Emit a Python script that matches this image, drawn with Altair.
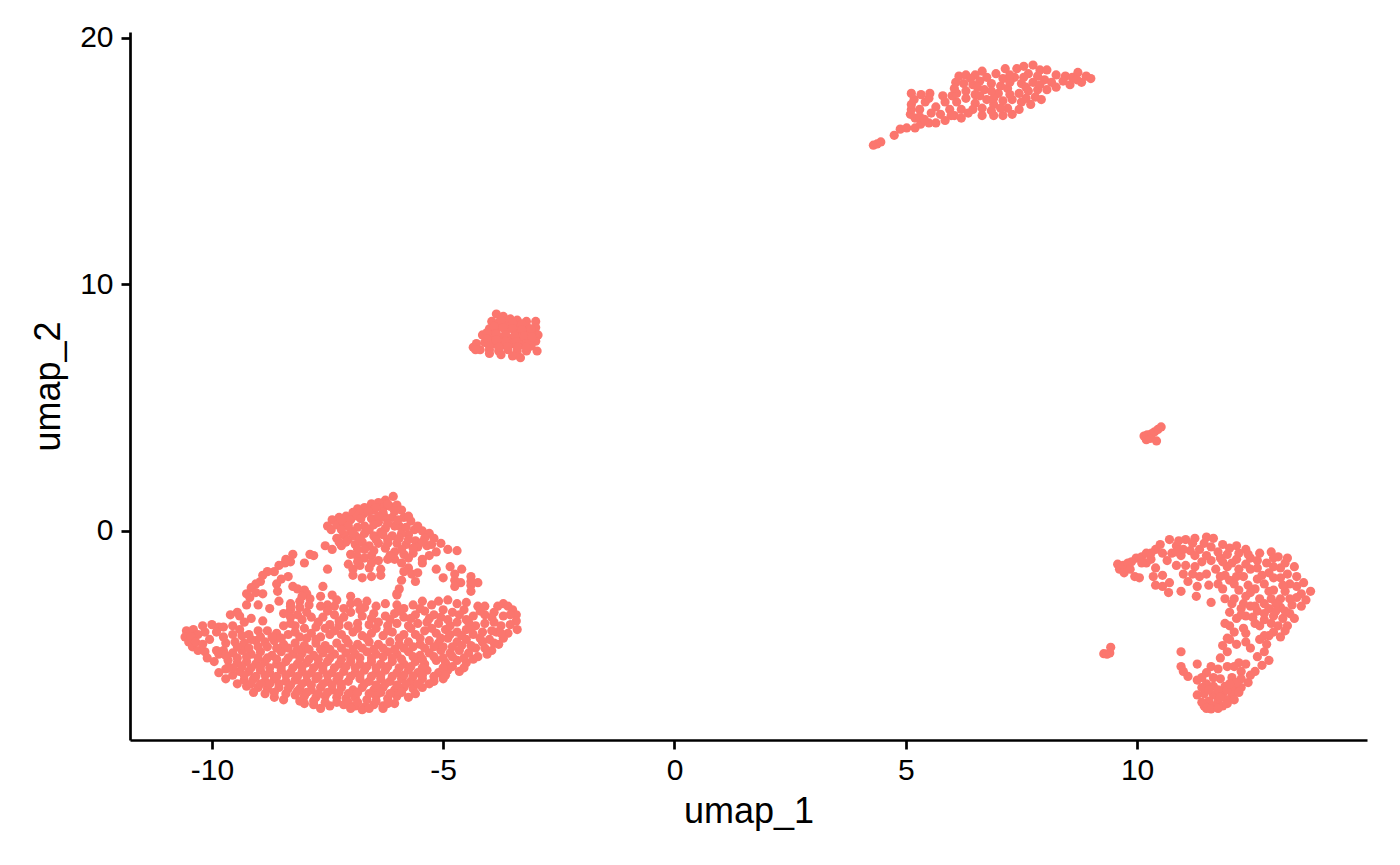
import altair as alt
import pandas as pd

peak = [(-6.08,1.4),(-6.25,1.25),(-6.4,1.15),(-6.55,1.1),(-6.7,0.95),(-6.85,0.9),(-6.95,0.75),(-7.1,0.6),(-7.25,0.55),(-7.4,0.45),(-7.5,0.2),(-7.42,0.05),(-7.3,0.25),(-7.15,0.3),(-7.0,0.45),(-6.85,0.6),(-6.72,0.7),(-6.5,0.85),(-6.3,0.95),(-6.15,1.0),(-6.0,1.05),(-5.9,0.85),(-5.85,0.55),(-5.7,0.4),(-5.62,0.05),(-5.45,0.0),(-5.3,-0.1),(-5.2,-0.3),(-5.4,-0.3),(-5.6,-0.4),(-5.75,-0.15),(-5.95,0.2),(-6.1,0.55),(-6.25,0.55),(-6.05,0.2),(-5.9,-0.1),(-6.1,-0.2),(-6.25,0.1),(-6.4,0.35),(-6.55,0.5),(-6.7,0.2),(-6.85,0.15),(-7.0,0.0),(-7.15,-0.15),(-7.3,-0.3),(-7.55,-0.6),(-7.4,-0.75),(-7.2,-0.6),(-7.05,-0.35),(-6.9,-0.2),(-6.7,-0.1),(-6.5,-0.2),(-6.35,-0.05),(-6.2,-0.35),(-6.0,-0.5),(-5.8,-0.55),(-5.55,-0.65),(-5.35,-0.6),(-5.15,-0.85),(-5.05,-0.5),(-4.9,-0.75),(-4.7,-0.8),(-6.9,-0.55),(-6.75,-0.45),(-6.6,-0.6),(-6.4,-0.5),(-6.25,-0.7),(-6.05,-0.85),(-5.85,-0.95),(-5.65,-0.9),(-5.45,-1.15),(-5.3,-1.0),(-7.0,-0.95),(-6.85,-1.05),(-6.7,-1.1),(-6.55,-1.0),(-6.4,-1.2),(-6.2,-1.15),(-7.05,-1.35),(-6.95,-1.55),(-6.8,-1.4),(-6.6,-1.5),(-6.35,-1.55),(-6.05,-1.15),(-5.9,-1.3),(-5.75,-1.5),(-6.95,-1.8),(-6.75,-1.9),(-6.55,-1.85),(-6.35,-1.8),(-5.85,-1.65),(-5.68,-1.75),(-5.55,-1.7),(-5.6,-2.05),(-5.9,-2.0),(-5.95,-2.35),(-4.85,-1.45),(-4.6,-1.55),(-4.75,-1.75),(-4.75,-2.0),(-4.62,-2.1),(-4.75,-2.25),(-4.4,-2.2),(-4.25,-2.1),(-4.4,-1.85),(-4.4,-2.05),(-4.4,-2.45),(-7.5,-1.55),(-8.0,-1.3),(-8.4,-1.15),(-7.88,-0.95),(-7.8,-1.0),(-5.15,-1.55),(-5.0,-1.9),(-5.45,-1.3),(-6.0,-2.55),(-6.0,-2.6)]

peak_fill = [(-6.2,1.1),(-6.45,0.95),(-6.62,0.8),(-6.3,0.75),(-6.78,0.5),(-7.05,0.2),(-7.2,0.05),(-6.95,-0.1),(-6.6,0.05),(-6.2,0.3),(-5.98,0.45),(-5.8,0.15),(-5.75,-0.35),(-5.95,-0.3),(-6.3,-0.15),(-6.45,-0.35),(-6.8,-0.3),(-7.1,-0.45),(-7.25,-0.45),(-6.7,-0.75),(-6.5,-0.8),(-6.2,-0.5),(-5.9,-0.75),(-5.65,-0.7),(-5.45,-0.45),(-5.25,-0.55),(-6.85,-0.75),(-6.15,-1.0),(-5.75,-1.1),(-6.55,-1.3),(-6.85,-1.25),(-7.2,0.45),(-6.4,0.6),(-6.05,0.8),(-5.75,0.6),(-5.55,0.2),(-6.5,0.25)]

ridge = [(-8.25,-0.95),(-8.3,-1.25),(-8.42,-1.3),(-8.55,-1.4),(-8.65,-1.65),(-8.8,-1.65),(-8.9,-1.8),(-8.95,-2.05),(-9.05,-2.15),(-9.15,-2.3),(-9.25,-2.55),(-9.18,-2.7),(-9.05,-2.5),(-8.9,-2.55),(-8.6,-2.15),(-8.5,-1.95),(-8.35,-1.85),(-8.58,-2.45),(-8.25,-2.25),(-8.15,-2.35),(-8.0,-2.4),(-7.95,-2.55),(-7.88,-2.75),(-8.1,-2.85),(-8.05,-2.65),(-7.6,-2.25),(-7.5,-3.0),(-9.25,-3.0),(-9.0,-3.0),(-8.75,-3.15),(-8.55,-2.85),(-8.3,-2.95),(-9.15,-3.55),(-8.9,-3.65),(-9.45,-3.3),(-8.3,-3.2),(-7.65,-2.65),(-7.4,-2.6),(-7.3,-2.8),(-7.0,-2.65)]

main_upper = [(-8.3,-3.05),(-8.1,-3.1),(-7.9,-3.0),(-7.65,-3.05),(-7.35,-3.05),(-7.15,-3.15),(-7.0,-2.95),(-6.85,-2.9),(-6.7,-3.1),(-6.45,-3.05),(-6.25,-2.95),(-6.65,-2.85),(-6.0,-3.0),(-5.85,-3.15),(-5.65,-3.0),(-5.45,-2.85),(-5.25,-3.0),(-5.1,-2.85),(-4.9,-2.8),(-4.7,-2.95),(-4.5,-2.9),(-4.25,-3.05),(-4.1,-3.05),(-3.82,-3.05),(-3.7,-2.95),(-3.6,-3.05),(-3.5,-3.2),(-3.42,-3.4),(-3.55,-3.4),(-3.7,-3.45),(-3.9,-3.3),(-4.1,-3.4),(-4.35,-3.45),(-4.55,-3.2),(-4.8,-3.3),(-5.0,-3.2),(-5.2,-3.4),(-5.4,-3.25),(-5.6,-3.4),(-5.85,-3.5),(-6.05,-3.35),(-6.25,-3.45),(-6.5,-3.35),(-6.75,-3.45),(-7.0,-3.3),(-7.15,-3.5),(-7.35,-3.4),(-7.6,-3.5),(-7.85,-3.5),(-8.05,-3.6),(-8.3,-3.5),(-8.45,-3.35),
(-3.42,-3.65),(-3.55,-3.8),(-3.4,-4.0),(-3.6,-4.15),(-3.75,-3.85),(-3.9,-3.7),(-4.1,-3.75),(-4.3,-3.85),(-4.5,-3.6),(-4.7,-3.7),(-4.9,-3.6),(-5.1,-3.75),(-5.35,-3.7),(-5.55,-3.75),(-5.75,-3.85),(-6.0,-3.75),(-6.2,-3.85),(-6.4,-3.7),(-6.6,-3.8),(-6.85,-3.75),(-7.05,-3.85),(-7.25,-3.85),(-7.45,-3.8),(-7.75,-3.9),(-8.0,-3.95),(-8.2,-3.85),(-8.45,-3.85),
(-3.7,-4.35),(-3.85,-4.1),(-3.8,-4.6),(-3.95,-4.85),(-4.0,-4.4),(-4.15,-4.1),(-4.35,-4.2),(-4.5,-4.0),(-4.7,-4.1),(-4.95,-4.0),(-5.15,-4.15),(-5.4,-4.05),(-5.6,-4.2),(-5.85,-4.2),(-6.1,-4.1),(-6.3,-4.25),(-6.55,-4.15),(-6.75,-4.25),(-6.95,-4.1),(-7.2,-4.2),(-7.45,-4.2),(-7.65,-4.3),(-7.85,-4.15),(-8.1,-4.3),(-8.35,-4.2),(-8.6,-4.15),(-8.8,-4.05),(-9.0,-4.05),(-9.2,-4.2),(-9.4,-4.0)]

main_lower = [(-4.15,-4.5),(-4.3,-4.75),(-4.5,-4.4),(-4.7,-4.5),(-4.9,-4.35),(-5.1,-4.55),(-5.3,-4.45),(-5.5,-4.6),(-5.75,-4.5),(-5.95,-4.6),(-6.15,-4.5),(-6.4,-4.6),(-6.6,-4.5),(-6.85,-4.6),(-7.05,-4.55),(-7.3,-4.55),(-7.55,-4.65),(-7.75,-4.55),(-8.0,-4.65),(-8.2,-4.55),(-8.45,-4.6),(-8.65,-4.45),(-8.85,-4.5),(-9.05,-4.45),(-9.3,-4.55),(-9.5,-4.5),(-9.7,-4.55),
(-4.25,-5.1),(-4.45,-4.95),(-4.65,-4.85),(-4.85,-4.95),(-5.05,-4.85),(-5.3,-4.95),(-5.5,-5.05),(-5.75,-4.9),(-6.0,-5.0),(-6.2,-4.9),(-6.45,-5.0),(-6.65,-4.9),(-6.9,-5.0),(-7.1,-4.95),(-7.35,-5.0),(-7.6,-4.95),(-7.8,-5.05),(-8.05,-4.95),(-8.25,-5.0),(-8.5,-4.9),(-8.7,-5.05),(-8.95,-4.9),(-9.15,-5.0),(-9.35,-4.85),(-9.55,-4.95),(-9.75,-4.85),
(-4.5,-5.35),(-4.7,-5.25),(-4.95,-5.35),(-5.15,-5.25),(-5.4,-5.4),(-5.6,-5.3),(-5.85,-5.4),(-6.1,-5.3),(-6.35,-5.4),(-6.55,-5.3),(-6.8,-5.4),(-7.0,-5.3),(-7.25,-5.4),(-7.5,-5.3),(-7.7,-5.4),(-7.95,-5.35),(-8.15,-5.4),(-8.4,-5.3),(-8.6,-5.4),(-8.85,-5.3),(-9.05,-5.4),(-9.25,-5.3),(-9.45,-5.35),(-9.65,-5.25),(-9.7,-5.6),
(-4.65,-5.7),(-4.9,-5.65),(-5.1,-5.75),(-5.35,-5.65),(-5.55,-5.75),(-5.75,-5.65),(-6.0,-5.75),(-6.25,-5.65),(-6.45,-5.75),(-6.7,-5.65),(-6.9,-5.75),(-7.15,-5.7),(-7.4,-5.75),(-7.6,-5.65),(-7.85,-5.75),(-8.05,-5.7),(-8.3,-5.75),(-8.5,-5.65),(-8.75,-5.75),(-8.95,-5.65),(-9.2,-5.7),(-9.4,-5.7),(-9.55,-5.85),
(-5.0,-6.0),(-5.2,-6.1),(-5.45,-6.0),(-5.7,-6.1),(-5.9,-6.0),(-6.15,-6.1),(-6.35,-6.0),(-6.6,-6.1),(-6.8,-6.0),(-7.05,-6.1),(-7.3,-6.05),(-7.5,-6.1),(-7.75,-6.0),(-7.95,-6.1),(-8.2,-6.05),(-8.4,-6.1),(-8.65,-6.0),(-8.85,-6.1),(-9.1,-6.0),(-9.3,-6.05),(-9.45,-6.2),(-9.25,-6.3),
(-5.45,-6.35),(-5.65,-6.4),(-5.85,-6.35),(-6.05,-6.45),(-6.3,-6.35),(-6.5,-6.45),(-6.75,-6.35),(-6.95,-6.45),(-7.2,-6.35),(-7.4,-6.45),(-7.65,-6.35),(-7.85,-6.45),(-8.1,-6.4),(-8.35,-6.4),(-8.55,-6.35),(-8.8,-6.4),(-9.0,-6.35),(-9.1,-6.55),(-8.85,-6.6),(-8.65,-6.75),(-8.45,-6.85),(-8.65,-6.55),
(-5.75,-6.75),(-6.0,-6.7),(-6.2,-6.8),(-6.45,-6.7),(-6.65,-6.85),(-6.9,-6.75),(-7.1,-6.8),(-7.3,-6.75),(-7.55,-6.7),(-7.75,-6.75),(-8.0,-6.7),(-8.2,-6.65),(-8.1,-6.9),
(-6.3,-7.1),(-6.5,-7.05),(-6.7,-7.15),(-6.9,-7.1),(-7.15,-7.05),(-7.45,-7.1),(-7.65,-7.2),(-7.8,-7.05),(-8.0,-7.0),(-7.55,-6.95),(-6.05,-7.0),(-6.3,-7.2),(-6.75,-7.25)]

main_fill = [(-3.95,-3.5),(-4.2,-3.25),(-4.45,-3.7),(-4.65,-3.4),(-4.85,-3.85),(-5.05,-3.5),(-5.3,-3.55),(-5.5,-3.15),(-5.7,-3.55),(-5.95,-3.25),(-6.15,-3.6),(-6.55,-3.55),(-6.8,-3.2),(-7.25,-3.65),(-7.5,-3.25),(-7.7,-3.7),(-7.95,-3.3),(-8.15,-3.4),(-8.3,-3.75),
(-3.75,-4.15),(-3.95,-4.05),(-4.2,-4.35),(-4.4,-4.0),(-4.6,-4.25),(-4.85,-4.2),(-5.05,-4.35),(-5.25,-3.95),(-5.5,-4.35),(-5.7,-3.95),(-5.95,-4.35),(-6.2,-4.05),(-6.45,-3.95),(-6.65,-4.35),(-6.85,-3.95),(-7.1,-4.4),(-7.35,-4.05),(-7.55,-3.95),(-7.75,-4.4),(-7.95,-4.35),(-8.2,-4.1),(-8.5,-4.35),(-8.7,-4.3),(-8.95,-4.3),(-9.15,-4.4),(-9.35,-4.25),(-9.55,-4.2),
(-3.9,-4.55),(-4.1,-4.75),(-4.05,-5.0),(-4.4,-4.65),(-4.6,-4.65),(-4.8,-4.7),(-5.0,-4.7),(-5.2,-4.7),(-5.4,-4.75),(-5.65,-4.7),(-5.85,-4.75),(-6.05,-4.8),(-6.3,-4.75),(-6.5,-4.8),(-6.75,-4.75),(-6.95,-4.8),(-7.2,-4.75),(-7.45,-4.8),(-7.65,-4.8),(-7.9,-4.8),(-8.15,-4.8),(-8.35,-4.75),(-8.6,-4.75),(-8.8,-4.7),(-9.0,-4.7),(-9.2,-4.75),(-9.45,-4.7),
(-4.35,-5.2),(-4.55,-5.15),(-4.8,-5.1),(-5.0,-5.15),(-5.2,-5.1),(-5.45,-5.2),(-5.65,-5.1),(-5.9,-5.2),(-6.1,-5.15),(-6.3,-5.1),(-6.55,-5.15),(-6.8,-5.15),(-7.0,-5.15),(-7.2,-5.2),(-7.45,-5.15),(-7.7,-5.2),(-7.9,-5.2),(-8.1,-5.15),(-8.35,-5.15),(-8.6,-5.2),(-8.8,-5.15),(-9.0,-5.15),(-9.25,-5.1),(-9.45,-5.15),
(-4.55,-5.55),(-4.8,-5.5),(-5.0,-5.55),(-5.45,-5.55),(-5.7,-5.5),(-5.95,-5.55),(-6.2,-5.5),(-6.45,-5.55),(-6.65,-5.5),(-6.9,-5.55),(-7.1,-5.5),(-7.35,-5.55),(-7.6,-5.5),(-7.8,-5.55),(-8.05,-5.5),(-8.25,-5.55),(-8.5,-5.5),(-8.75,-5.55),(-8.95,-5.5),(-9.15,-5.55),(-9.35,-5.5),(-9.55,-5.55),
(-4.95,-5.85),(-5.2,-5.9),(-5.45,-5.85),(-5.65,-5.9),(-5.85,-5.85),(-6.1,-5.9),(-6.35,-5.85),(-6.55,-5.9),(-6.8,-5.85),(-7.0,-5.9),(-7.25,-5.9),(-7.5,-5.85),(-7.7,-5.9),(-7.95,-5.85),(-8.15,-5.9),(-8.4,-5.85),(-8.6,-5.9),(-8.85,-5.85),(-9.05,-5.9),(-9.3,-5.85),
(-5.3,-6.2),(-5.55,-6.2),(-5.8,-6.2),(-6.0,-6.25),(-6.25,-6.2),(-6.45,-6.25),(-6.7,-6.2),(-7.2,-6.2),(-7.4,-6.25),(-7.6,-6.2),(-7.85,-6.25),(-8.05,-6.2),(-8.3,-6.25),(-8.55,-6.2),(-8.75,-6.2),(-8.95,-6.2),(-9.15,-6.2),
(-5.6,-6.6),(-5.9,-6.55),(-6.15,-6.6),(-6.35,-6.55),(-6.6,-6.6),(-6.85,-6.55),(-7.05,-6.6),(-7.25,-6.55),(-7.5,-6.55),(-7.7,-6.6),(-7.95,-6.55),(-8.15,-6.5),(-8.4,-6.6),
(-6.2,-7.0),(-6.45,-6.9),(-6.85,-6.95),(-7.05,-6.95),(-7.3,-6.95),(-7.8,-6.9),(-6.6,-7.2),(-7.0,-7.2)]

main_left = [(-10.55,-4.05),(-10.58,-4.3),(-10.5,-4.5),(-10.4,-4.0),(-10.3,-4.2),(-10.42,-4.7),(-10.3,-4.85),(-10.15,-4.9),(-10.1,-5.15),(-9.95,-5.3),(-10.2,-3.85),(-10.0,-3.8),(-9.85,-3.9),(-10.05,-4.4),(-9.9,-4.85),(-9.85,-5.0),(-9.75,-3.9),(-9.6,-3.4),(-9.55,-3.85),(-9.4,-3.45),(-9.3,-3.7),(-9.75,-4.3),(-9.9,-4.1),(-9.7,-5.05),(-9.65,-5.55),(-9.85,-5.75),(-9.7,-6.0),(-10.45,-4.3),(-10.35,-4.5),(-10.2,-4.6),(-10.15,-4.1)]

blob_small = [(-3.85,8.8),(-3.7,8.7),(-3.55,8.6),(-3.4,8.55),(-3.2,8.5),(-3.0,8.5),(-3.95,8.5),(-3.8,8.45),(-3.6,8.4),(-3.4,8.3),(-3.2,8.3),(-3.0,8.25),(-2.95,7.95),(-4.0,8.2),(-3.85,8.15),(-3.65,8.1),(-3.45,8.05),(-3.25,8.0),(-3.1,8.05),(-4.15,7.95),(-3.95,7.9),(-3.75,7.85),(-3.55,7.8),(-3.35,7.8),(-3.15,7.75),(-3.0,7.7),(-4.28,7.6),(-4.1,7.65),(-3.9,7.6),(-3.7,7.55),(-3.5,7.6),(-3.3,7.55),(-3.1,7.5),(-4.35,7.45),(-4.2,7.35),(-4.0,7.35),(-3.8,7.3),(-3.6,7.35),(-3.4,7.3),(-3.2,7.3),(-4.0,7.2),(-3.75,7.15),(-3.5,7.1),(-3.33,7.03),(-2.97,7.3),(-4.3,7.35),(-3.75,8.55),(-3.5,8.45),(-3.3,8.4),(-3.9,8.3),(-3.7,8.25),(-3.5,8.2),(-3.3,8.15),(-3.1,8.2),(-4.05,8.05),(-3.85,8.0),(-3.65,7.95),(-3.45,7.9),(-3.25,7.9),(-3.08,7.85),(-4.05,7.8),(-3.85,7.75),(-3.65,7.7),(-3.42,7.68),(-3.2,7.6),(-4.0,7.5),(-3.8,7.45),(-3.6,7.48),(-3.4,7.45),(-3.2,7.45)]

blob_top = [(4.3,15.65),(4.38,15.7),(4.46,15.78),(4.75,16.05),(4.88,16.3),(5.02,16.35),(5.2,16.35),(5.32,16.5),(5.5,16.55),(5.65,16.55),(5.85,16.65),(6.05,16.85),(5.2,16.75),(5.1,16.9),(5.12,17.1),(5.12,17.3),(5.18,17.5),(5.12,17.75),(5.33,17.7),(5.52,17.75),(5.42,17.4),(5.3,17.1),(5.3,16.8),(5.55,16.95),(5.65,17.2),(5.8,17.65),(5.95,17.1),(6.1,17.4),(6.0,17.65),(6.08,18.2),(6.15,18.45),(6.3,18.5),(6.5,18.5),(6.65,18.65),(6.25,18.15),(6.45,18.1),(6.6,18.25),(6.3,17.85),(6.5,17.7),(6.7,17.9),(6.85,18.15),(6.95,18.55),(7.1,18.35),(7.15,18.75),(7.4,18.75),(7.55,18.85),(7.75,18.9),(7.9,18.7),(8.05,18.7),(7.65,18.55),(7.35,18.4),(7.5,18.15),(7.75,18.2),(8.0,18.3),(8.25,18.5),(8.45,18.45),(8.6,18.4),(8.72,18.6),(8.9,18.45),(9.0,18.35),(8.8,18.2),(8.55,18.1),(8.25,18.0),(8.05,17.9),(7.85,17.9),(7.93,17.5),(7.65,17.85),(7.45,17.75),(7.2,17.95),(7.0,17.75),(6.75,17.5),(6.5,17.35),(6.3,17.55),(6.2,17.1),(6.2,16.75),(6.45,17.1),(6.65,17.15),(6.9,17.3),(7.1,17.45),(7.3,17.5),(7.5,17.4),(7.7,17.3),(6.65,16.85),(6.9,16.85),(7.1,16.85),(7.3,16.9),(7.45,17.1),(7.2,17.15),
(5.4,16.7),(5.75,16.9),(5.98,16.85),(5.85,17.4),(6.35,16.95),(6.85,17.05),(7.05,17.15),(7.6,17.55),(7.8,17.6),(7.25,17.7),(6.9,17.55),(6.6,17.65),(6.1,17.75),(6.85,17.85),(7.05,18.05),(7.25,18.2),(7.6,18.0),(7.9,18.1),(8.15,18.2),(7.85,18.45),(7.55,18.4),(7.25,18.5),(6.75,18.4),(6.4,18.35),(6.55,18.0),(6.05,17.95),(5.5,17.55),(8.4,18.25),(8.7,18.3)]

blob_tiny = [(10.2,3.7),(10.15,3.85),(10.22,3.9),(10.28,3.75),(10.32,3.95),(10.38,4.02),(10.45,4.12),(10.52,4.22),(10.42,3.65)]
blob_pair = [(9.28,-4.98),(9.35,-5.0),(9.41,-4.95),(9.43,-4.72)]

arc_top = [(9.58,-1.35),(9.62,-1.55),(9.7,-1.4),(9.72,-1.7),(9.8,-1.3),(9.85,-1.55),(9.95,-1.85),(10.05,-1.9),(9.98,-1.1),(10.1,-1.05),(10.2,-0.9),(10.4,-0.75),(10.5,-0.55),(10.2,-1.3),(10.4,-1.5),(10.3,-1.15),(10.35,-1.85),(10.4,-2.2),(10.55,-2.25),(10.55,-1.8),(10.7,-2.1),(10.68,-2.5),(10.65,-1.2),(10.75,-0.9),(10.7,-0.35),(10.85,-0.6),(11.05,-0.35),(11.25,-0.3),(11.5,-0.25),(11.65,-0.3),(10.95,-1.0),(11.15,-0.8),(11.35,-0.75),(11.6,-0.65),(11.05,-1.4),(11.0,-1.75),(11.1,-2.05),(11.35,-1.85),(11.5,-1.75),(11.7,-1.55),(11.4,-1.25),(11.6,-1.2),(11.8,-1.1),(11.3,-2.25),(11.55,-2.2),(11.28,-2.65),(11.6,-2.9),(10.95,-2.45),(11.85,-0.55),(12.0,-0.7),(12.15,-0.6),(12.35,-0.75),(12.45,-1.1),(12.15,-1.15),(11.95,-1.45),(11.9,-1.8),(12.0,-2.0),(11.85,-2.35),(11.9,-2.75),(12.05,-2.95),(12.2,-1.55),(12.3,-1.85),(12.45,-1.55),(12.65,-0.9),(12.9,-0.85),(13.05,-1.05),(13.25,-1.1),(13.4,-1.45),(12.8,-1.3),(13.1,-1.5),(13.45,-1.85),(13.6,-2.1),(13.75,-2.45),(13.65,-2.8),(13.55,-2.55),(13.3,-2.15),(13.1,-1.9),(12.85,-1.7),(12.6,-1.95),(12.4,-2.2),(12.2,-2.4),(12.1,-2.75),(12.35,-2.65),(12.55,-2.35),(12.75,-2.15),(12.95,-2.4),(13.2,-2.45),(13.45,-2.7),(13.55,-3.05),(13.35,-3.0),(13.1,-2.75),(12.9,-2.75),(12.65,-2.75),(12.45,-3.05),(12.25,-3.15),(12.0,-3.3),(12.15,-3.55),(12.35,-3.45),(12.6,-3.25),(12.85,-3.15),(13.1,-3.1),(13.3,-3.35),(13.4,-3.55),(13.15,-3.55),(12.95,-3.45),(12.75,-3.6),(12.55,-3.75),(12.3,-3.95),(12.35,-4.15),(12.1,-4.1),(12.0,-3.85),(13.25,-3.85),(13.05,-3.85),(12.95,-4.1),(13.1,-4.3),(12.85,-4.25)]

arc_fill = [(9.88,-1.25),(10.1,-1.3),(10.3,-0.9),(10.55,-0.9),(10.9,-0.4),(11.2,-0.5),(11.45,-0.5),(11.0,-0.75),(11.25,-1.0),(11.5,-1.0),(11.75,-0.85),(11.95,-0.95),(12.2,-0.9),(12.4,-0.95),(12.6,-1.2),(12.05,-1.3),(11.85,-1.25),(12.35,-1.35),(12.6,-1.5),(12.95,-1.1),(13.2,-1.3),(12.95,-1.45),(12.7,-1.8),(12.95,-1.9),(13.25,-1.75),(13.45,-2.25),(13.15,-2.2),(12.85,-2.45),(12.45,-2.5),(13.0,-2.95),(13.3,-2.75),(12.75,-2.95),(12.55,-3.05),(12.3,-2.95),(12.25,-3.4),(12.5,-3.5),(12.75,-3.35),(13.0,-3.25),(13.2,-3.25),(12.9,-3.75),(13.2,-4.05),(12.65,-3.85),(12.15,-1.85),(12.1,-2.15),(11.25,-1.45),(11.2,-1.75),(10.85,-1.4),(10.85,-0.85),(11.8,-1.85),(11.75,-2.15)]

arc_bottom = [(11.9,-3.75),(11.95,-4.35),(12.0,-4.4),(11.85,-4.65),(11.95,-4.9),(12.15,-4.6),(12.35,-4.5),(12.45,-4.75),(12.65,-4.4),(12.75,-4.25),(12.8,-4.6),(12.75,-4.9),(12.85,-5.25),(12.7,-5.45),(12.6,-5.1),(12.55,-5.7),(12.45,-5.85),(12.4,-6.15),(12.2,-5.35),(12.35,-5.4),(11.8,-5.15),(10.95,-4.9),(10.95,-5.5),(11.0,-5.7),(11.1,-5.9),(11.3,-5.4),(11.3,-6.05),(11.5,-5.75),(11.5,-6.2),(11.6,-5.5),(11.75,-5.6),(11.95,-5.5),(12.1,-5.5),(12.25,-5.7),(12.05,-5.95),(12.25,-6.0),(11.8,-6.0),(11.65,-6.3),(12.1,-6.4),(12.25,-6.35),(11.9,-6.3),(11.3,-6.65),(11.45,-6.6),(11.65,-6.65),(11.85,-6.6),(12.05,-6.65),(12.2,-6.55),(11.55,-6.9),(11.75,-6.9),(11.95,-6.85),(12.1,-6.85),(11.45,-7.1),(11.65,-7.1),(11.85,-7.1),(11.95,-7.0),(11.4,-6.95),(11.5,-7.2),(11.6,-7.22),(11.75,-7.2),(11.4,-6.35),(11.75,-6.45),(11.95,-6.45),(11.65,-5.95),(11.4,-5.95),(12.15,-6.15),(11.55,-6.45),(11.8,-6.75),(12.0,-6.2)]

axis_x_ticks = [-10, -5, 0, 5, 10]
axis_y_ticks = [0, 10, 20]
x_domain = [-11.77, 14.97]
y_domain = [-8.48, 20.24]

all_points = (peak + peak_fill + ridge + main_upper + main_lower + main_fill + main_left + blob_small
              + blob_top + blob_tiny + blob_pair + arc_top + arc_fill + arc_bottom)
df = pd.DataFrame(all_points, columns=["umap_1", "umap_2"])

FONT = "Liberation Sans"
LABEL = "'' + datum.value"
chart = (
    alt.Chart(df)
    .mark_circle(size=85, color="#FB766E", opacity=1)
    .encode(
        x=alt.X("umap_1:Q", scale=alt.Scale(domain=x_domain, nice=False, zero=False),
                axis=alt.Axis(values=axis_x_ticks, title="umap_1", grid=False, labelExpr=LABEL,
                              domainColor="black", domainWidth=2.7, tickColor="black", tickWidth=2.7, tickSize=9,
                              labelFont=FONT, labelFontSize=30, labelColor="black", labelPadding=6,
                              titleFont=FONT, titleFontSize=36, titleFontWeight="normal", titleColor="black", titlePadding=9)),
        y=alt.Y("umap_2:Q", scale=alt.Scale(domain=y_domain, nice=False, zero=False),
                axis=alt.Axis(values=axis_y_ticks, title="umap_2", grid=False, labelExpr=LABEL,
                              domainColor="black", domainWidth=2.7, tickColor="black", tickWidth=2.7, tickSize=9,
                              labelFont=FONT, labelFontSize=30, labelColor="black", labelPadding=8,
                              titleFont=FONT, titleFontSize=36, titleFontWeight="normal", titleColor="black", titlePadding=12)),
    )
    .properties(width=1237, height=708, autosize="none",
                padding={"left": 122, "top": 24, "right": 25, "bottom": 110})
    .configure_view(stroke=None)
)
chart.save("out.html", embed_options={"renderer": "svg", "actions": False})
